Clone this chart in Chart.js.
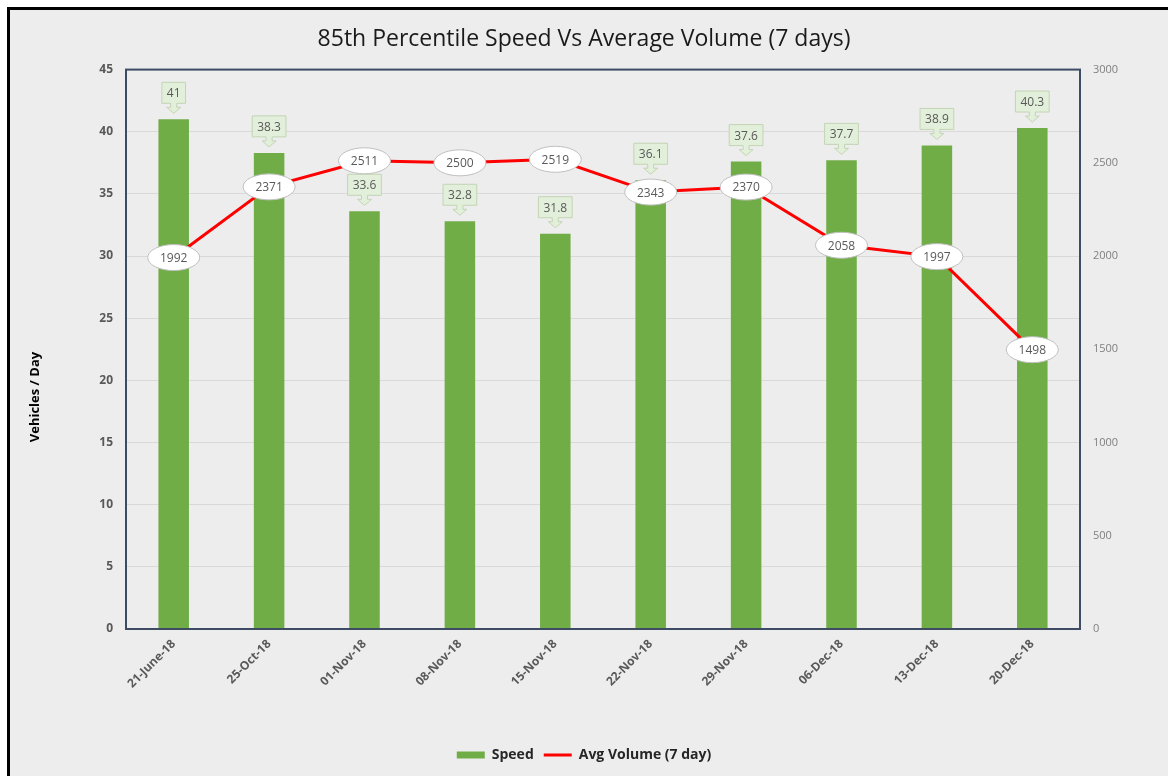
<!DOCTYPE html>
<html>
<head>
<meta charset="utf-8">
<script src="https://cdn.jsdelivr.net/npm/chart.js@4.4.0/dist/chart.umd.min.js"></script>
<style>
  html, body { margin: 0; padding: 0; background: #fff; }
  #frame {
    position: absolute; left: 7px; top: 7px; width: 1200px; height: 800px;
    border: 3px solid #000; background: #ededed;
  }
  #wrap { position: absolute; left: 0; top: 0; width: 1168px; height: 776px; }
</style>
</head>
<body>
<div id="frame"></div>
<div id="wrap"><canvas id="chart" width="1168" height="776"></canvas></div>
<script>
// ----------------------------
// Data
// ----------------------------
var dates = ['21-June-18', '25-Oct-18', '01-Nov-18', '08-Nov-18', '15-Nov-18',
             '22-Nov-18', '29-Nov-18', '06-Dec-18', '13-Dec-18', '20-Dec-18'];
var speed = [41, 38.3, 33.6, 32.8, 31.8, 36.1, 37.6, 37.7, 38.9, 40.3];
var avgVolume = [1992, 2371, 2511, 2500, 2519, 2343, 2370, 2058, 1997, 1498];

var FONT = '"Open Sans", "Liberation Sans", sans-serif';
var GRAY = '#595959';

// plot frame + y title drawn by hand
var framePlugin = {
    id: 'frame',
    afterDatasetsDraw: function (chart) {
        var a = chart.chartArea, ctx = chart.ctx;
        ctx.save();
        ctx.strokeStyle = '#3d4b63';
        ctx.lineWidth = 2;
        ctx.strokeRect(a.left, a.top, a.right - a.left, a.bottom - a.top);
        ctx.translate(35, 397);
        ctx.rotate(-Math.PI / 2);
        ctx.fillStyle = '#000';
        ctx.font = 'bold 13px ' + FONT;
        ctx.textAlign = 'center';
        ctx.textBaseline = 'middle';
        ctx.fillText('Vehicles / Day', 0, 0);
        ctx.restore();
    }
};

// callout labels above bars, ellipse labels on the line
var labelPlugin = {
    id: 'labels',
    afterDatasetsDraw: function (chart) {
        var ctx = chart.ctx;
        ctx.save();
        ctx.font = '12px ' + FONT;
        ctx.textAlign = 'center';
        ctx.textBaseline = 'middle';

        chart.getDatasetMeta(0).data.forEach(function (bar, i) {
            var txt = String(speed[i]);
            var w = ctx.measureText(txt).width + 10;
            var h = 21;
            var x = bar.x;
            var tip = bar.y - 6;
            var bottom = tip - 10;
            var top = bottom - h;
            ctx.beginPath();
            ctx.moveTo(x - w / 2, top);
            ctx.lineTo(x + w / 2, top);
            ctx.lineTo(x + w / 2, bottom);
            ctx.lineTo(x + 3, bottom);
            ctx.lineTo(x + 3, bottom + 4);
            ctx.lineTo(x + 7, bottom + 4);
            ctx.lineTo(x, tip);
            ctx.lineTo(x - 7, bottom + 4);
            ctx.lineTo(x - 3, bottom + 4);
            ctx.lineTo(x - 3, bottom);
            ctx.lineTo(x - w / 2, bottom);
            ctx.closePath();
            ctx.fillStyle = '#e2efda';
            ctx.fill();
            ctx.strokeStyle = '#c3d4b4';
            ctx.lineWidth = 1;
            ctx.stroke();
            ctx.fillStyle = GRAY;
            ctx.fillText(txt, x, top + h / 2 + 1);
        });

        chart.getDatasetMeta(1).data.forEach(function (pt, i) {
            ctx.beginPath();
            ctx.ellipse(pt.x, pt.y, 26, 13, 0, 0, Math.PI * 2);
            ctx.fillStyle = '#fff';
            ctx.fill();
            ctx.strokeStyle = '#bfbfbf';
            ctx.lineWidth = 1;
            ctx.stroke();
            ctx.fillStyle = GRAY;
            ctx.fillText(String(avgVolume[i]), pt.x, pt.y + 1);
        });
        ctx.restore();
    }
};

new Chart(document.getElementById('chart'), {
    type: 'bar',
    data: {
        labels: dates,
        datasets: [{
            label: 'Speed',
            data: speed,
            backgroundColor: '#70ad47',
            borderWidth: 0,
            barPercentage: 0.32,
            categoryPercentage: 1,
            yAxisID: 'y',
            pointStyle: 'rect',
            order: 2
        }, {
            type: 'line',
            label: 'Avg Volume (7 day)',
            data: avgVolume,
            borderColor: '#ff0000',
            backgroundColor: '#ff0000',
            borderWidth: 3,
            pointRadius: 0,
            pointStyle: 'line',
            tension: 0,
            yAxisID: 'y1',
            order: 1
        }]
    },
    options: {
        responsive: false,
        animation: false,
        devicePixelRatio: 1,
        layout: { padding: { top: 10, bottom: 4, left: 0, right: 0 } },
        plugins: {
            title: {
                display: true,
                text: '85th Percentile Speed Vs Average Volume (7 days)',
                color: '#1a1a1a',
                font: { family: FONT, size: 23, weight: 'normal' },
                padding: { top: 16, bottom: 16 }
            },
            legend: {
                position: 'bottom',
                labels: {
                    usePointStyle: true,
                    pointStyleWidth: 28,
                    boxHeight: 7,
                    padding: 10,
                    color: '#262626',
                    font: { family: FONT, size: 14, weight: 'bold' },
                    sort: function (a, b) { return a.datasetIndex - b.datasetIndex; }
                }
            },
            tooltip: { enabled: false }
        },
        scales: {
            x: {
                grid: { display: false, drawTicks: false },
                border: { display: false },
                ticks: {
                    color: GRAY,
                    minRotation: 45,
                    maxRotation: 45,
                    padding: 8,
                    font: { family: FONT, size: 12, weight: 'bold' }
                },
                afterFit: function (s) { s.height = 109; }
            },
            y: {
                position: 'left',
                min: 0, max: 45,
                grid: { color: '#d9d9d9', drawTicks: false },
                border: { display: false },
                ticks: {
                    stepSize: 5,
                    color: GRAY,
                    padding: 13,
                    font: { family: FONT, size: 12, weight: 'bold' }
                },
                afterFit: function (s) { s.width = 126; }
            },
            y1: {
                position: 'right',
                min: 0, max: 3000,
                grid: { display: false, drawTicks: false },
                border: { display: false },
                ticks: {
                    stepSize: 500,
                    color: '#7f7f7f',
                    padding: 13,
                    font: { family: FONT, size: 11 },
                    callback: function (v) { return String(v); }
                },
                afterFit: function (s) { s.width = 88; }
            }
        }
    },
    plugins: [framePlugin, labelPlugin]
});
</script>
</body>
</html>
